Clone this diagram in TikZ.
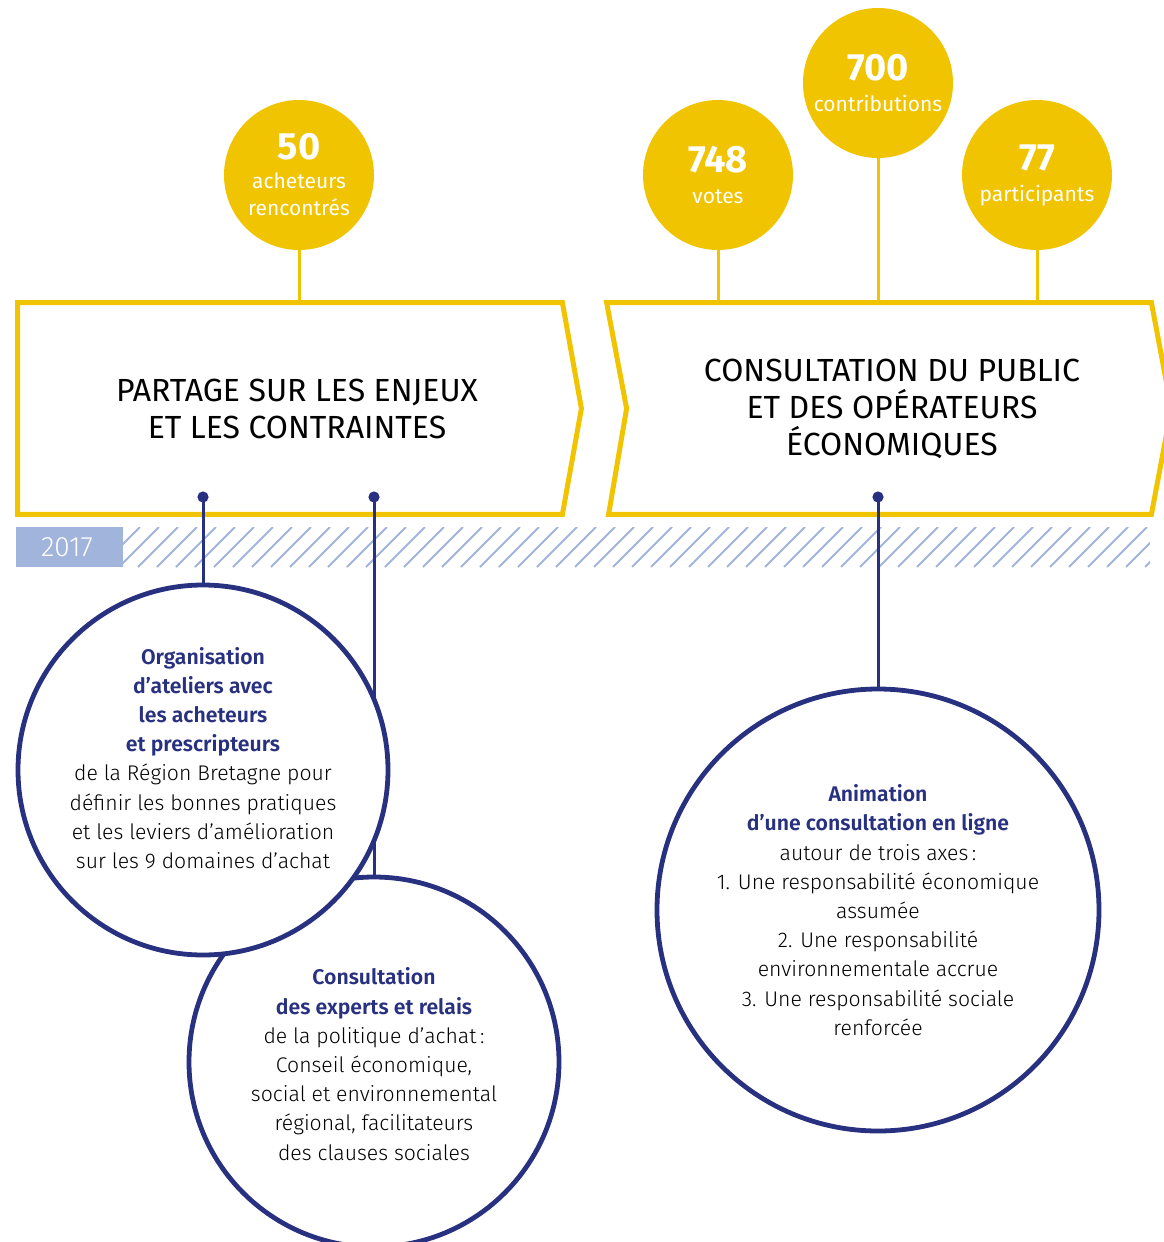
\documentclass[tikz,border=0pt]{standalone}
\usepackage{fontspec}
\setmainfont{Fira Sans}
\newfontfamily\leger{Fira Sans Light}
\usetikzlibrary{positioning}
\definecolor{jaune}{RGB}{240,196,0}
\definecolor{marine}{RGB}{40,48,128}
\definecolor{ciel}{RGB}{160,180,220}
\newcommand{\fort}[1]{{\color{marine}\bfseries #1}}

\begin{document}
\begin{tikzpicture}[x=0.5pt, y=-0.5pt,
    chiffre/.style={circle, fill=jaune, text=white, minimum size=75pt, inner sep=0pt,
        align=center, font=\fontsize{10.5}{13.5}\selectfont},
    etape/.style={minimum width=272pt, minimum height=105.5pt, inner sep=0pt},
    titre/.style={align=center, font=\fontsize{16}{18.5}\selectfont},
    bulle/.style={circle, draw=marine, line width=2.4pt, fill=white, inner sep=0pt},
    texte/.style={align=center, font=\leger\fontsize{10.6}{14.6}\selectfont},
    tige/.style={jaune, line width=1.5pt},
    fil/.style={marine, line width=1.5pt},
    cadre/.style={jaune, line width=2.5pt, line join=miter},
    hachure/.style={ciel, line width=1pt}]
    \useasboundingbox (0,0) rectangle (1163,1242);

    % frise 2017
    \fill[ciel] (16,527) rectangle (123,567);
    \node[text=white, font=\leger\fontsize{14}{16}\selectfont] (an) at (67,547) {2017};
    \begin{scope}
        \clip (123,527) rectangle (1150,567);
        \foreach \i in {0,...,56}
            \draw[hachure] ({100+19*\i},567) -- ++(40,-40);
    \end{scope}

    % etapes
    \node[etape] (p1) at (290,408.5) {};
    \node[etape] (p2) at (879,408.5) {};
    \draw[cadre] (p1.north west) -- (p1.north east) -- ([xshift=9.5pt]p1.east)
        -- (p1.south east) -- (p1.south west) -- cycle;
    \draw[cadre] (p2.north west) -- (p2.north east) -- ([xshift=10pt]p2.east)
        -- (p2.south east) -- ([xshift=1pt]p2.south west) -- ([xshift=10pt]p2.west) -- cycle;
    \node[titre, xshift=3.5pt] (t1) at (p1) {PARTAGE SUR LES ENJEUX\\ET LES CONTRAINTES};
    \node[titre, xshift=6.5pt] (t2) at (p2) {CONSULTATION DU PUBLIC\\ET DES OPÉRATEURS\\ÉCONOMIQUES};

    % chiffres
    \node[chiffre] (c50) at (299,175) {{\fontsize{19}{20}\selectfont\bfseries 50}\\[1pt]acheteurs\\rencontrés};
    \node[chiffre] (c748) at (718,175) {{\fontsize{19}{20}\selectfont\bfseries 748}\\[2pt]votes};
    \node[chiffre] (c700) at (878,83) {{\fontsize{19}{20}\selectfont\bfseries 700}\\[2pt]contributions};
    \node[chiffre] (c77) at (1037,175) {{\fontsize{19}{20}\selectfont\bfseries 77}\\[2pt]participants};
    \foreach \c in {c50,c748,c700,c77}
        \draw[tige] (\c.south) -- (\c.south |- p1.north);

    % points et bulles
    \coordinate (d1) at (203,497);
    \coordinate (d2) at (374,497);
    \coordinate (d3) at (878,497);
    \node[bulle, minimum size=185pt] (o2) at (374,1062) {};
    \node[bulle, minimum size=221pt] (o3) at (878,910) {};
    \draw[fil] (d2) -- (o2.north);
    \draw[fil] (d3) -- (o3.north);
    \node[bulle, minimum size=185pt] (o1) at (203,770) {};
    \draw[fil] (d1) -- (o1.north);
    \foreach \d in {d1,d2,d3}
        \fill[marine] (\d) circle (2.8pt);

    \node[texte, yshift=6pt] (x1) at (o1) {\fort{Organisation}\\\fort{d’ateliers avec}\\
        \fort{les acheteurs}\\\fort{et prescripteurs}\\de la Région Bretagne pour\\
        définir les bonnes pratiques\\et les leviers d’amélioration\\sur les 9 domaines d’achat};
    \node[texte, yshift=-1pt] (x2) at (o2) {\fort{Consultation}\\\fort{des experts et relais}\\
        de la politique d’achat\,:\\Conseil économique,\\social et environnemental\\
        régional, facilitateurs\\des clauses sociales};
    \node[texte] (x3) at (o3) {\fort{Animation}\\\fort{d’une consultation en ligne}\\
        autour de trois axes\,:\\1. Une responsabilité économique\\assumée\\
        2. Une responsabilité\\environnementale accrue\\3. Une responsabilité sociale\\renforcée};
\end{tikzpicture}
\end{document}
